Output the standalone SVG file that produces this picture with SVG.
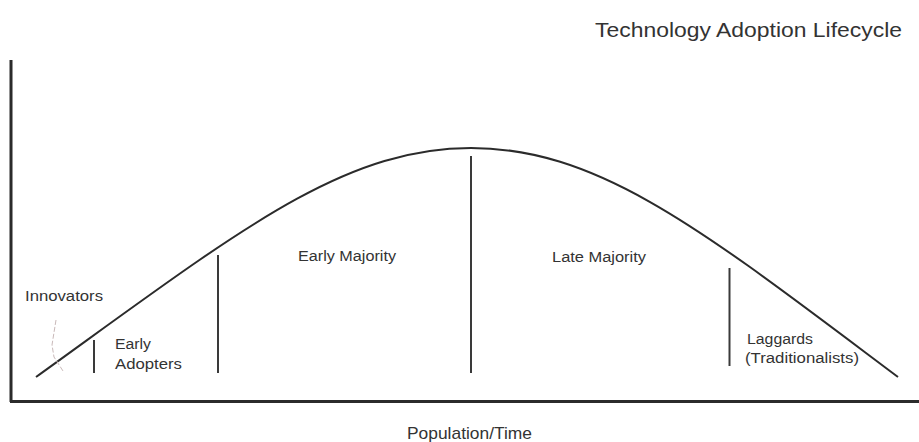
<svg xmlns="http://www.w3.org/2000/svg" width="919" height="442" viewBox="0 0 919 442">
  <style>
    .axis { stroke: #2b2b2b; stroke-width: 3; fill: none; }
    .curve { stroke: #2b2b2b; stroke-width: 2; fill: none; }
    .divider { stroke: #3a3a3a; stroke-width: 2; }
    .lbl { font-family: "Liberation Sans", Arial, sans-serif; fill: #333; font-size: 14px; }
    .title { font-family: "Liberation Sans", Arial, sans-serif; fill: #333; font-size: 21px; }
    .xlabel { font-family: "Liberation Sans", Arial, sans-serif; fill: #333; font-size: 17px; }
  </style>
  <rect width="919" height="442" fill="#fff"/>

  <text class="title" x="595" y="37" textLength="307" lengthAdjust="spacingAndGlyphs">Technology Adoption Lifecycle</text>

  <!-- axes -->
  <g id="axes">
    <line class="axis" x1="11" y1="60" x2="11" y2="402"/>
    <line class="axis" x1="10" y1="401.5" x2="919" y2="401.5"/>
  </g>

  <!-- bell curve -->
  <g id="curve">
    <path class="curve" d="M36,377 C236,233 341,148 471,148 C601,148 706,233 898,377"/>
  </g>

  <!-- segment dividers -->
  <g id="connectors">
    <line class="divider" x1="94" y1="340" x2="94" y2="373"/>
    <line class="divider" x1="218" y1="255" x2="218" y2="373"/>
    <line class="divider" x1="471" y1="156" x2="471" y2="373"/>
    <line class="divider" x1="729.5" y1="268" x2="729.5" y2="366"/>
    <path d="M56,320 L52,345 L54,357 L63,371" stroke="#c9b9b9" stroke-width="1" fill="none" stroke-dasharray="5,2"/>
  </g>

  <g id="innovators">
    <text class="lbl" x="25" y="301" textLength="78" lengthAdjust="spacingAndGlyphs">Innovators</text>
  </g>
  <g id="early-adopters">
    <text class="lbl" x="115" y="349" textLength="36" lengthAdjust="spacingAndGlyphs">Early</text>
    <text class="lbl" x="115" y="369" textLength="67" lengthAdjust="spacingAndGlyphs">Adopters</text>
  </g>
  <g id="early-majority">
    <text class="lbl" x="298" y="261" textLength="98" lengthAdjust="spacingAndGlyphs">Early Majority</text>
  </g>
  <g id="late-majority">
    <text class="lbl" x="552" y="262" textLength="94" lengthAdjust="spacingAndGlyphs">Late Majority</text>
  </g>
  <g id="laggards">
    <text class="lbl" x="747" y="344" textLength="66" lengthAdjust="spacingAndGlyphs">Laggards</text>
    <text class="lbl" x="745" y="363" textLength="114" lengthAdjust="spacingAndGlyphs">(Traditionalists)</text>
  </g>

  <text class="xlabel" x="407" y="439" textLength="125" lengthAdjust="spacingAndGlyphs">Population/Time</text>
</svg>
